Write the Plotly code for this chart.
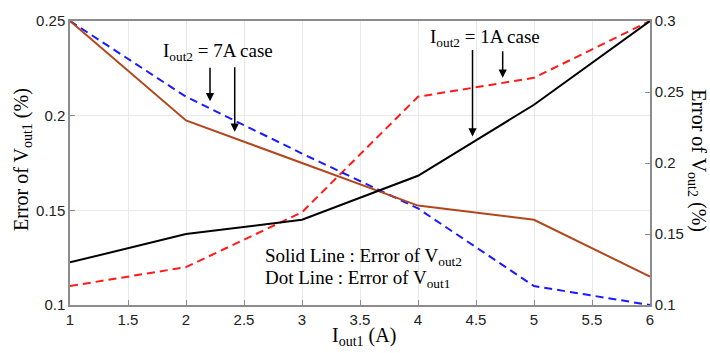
import plotly.graph_objects as go

# Data
x_vals = [1, 2, 3, 4, 5, 6]
# Solid lines: Error of Vout2 (right axis)
vout2_1A = [0.130, 0.150, 0.160, 0.191, 0.241, 0.300]   # black
vout2_7A = [0.300, 0.230, 0.200, 0.170, 0.160, 0.120]   # brown
# Dashed lines: Error of Vout1 (left axis)
vout1_1A = [0.110, 0.120, 0.149, 0.210, 0.220, 0.250]   # red
vout1_7A = [0.250, 0.210, 0.180, 0.151, 0.110, 0.100]   # blue

x_ticks = [1, 1.5, 2, 2.5, 3, 3.5, 4, 4.5, 5, 5.5, 6]
x_ticktext = ["1", "1.5", "2", "2.5", "3", "3.5", "4", "4.5", "5", "5.5", "6"]
yl_ticks = [0.1, 0.15, 0.2, 0.25]
yl_ticktext = ["0.1", "0.15", "0.2", "0.25"]
yr_ticks = [0.1, 0.15, 0.2, 0.25, 0.3]
yr_ticktext = ["0.1", "0.15", "0.2", "0.25", "0.3"]

SERIF = "Liberation Serif, Times New Roman, serif"
SANS = "Liberation Sans, Arial, sans-serif"
AXC = "#8c8c8c"

fig = go.Figure()
fig.add_trace(go.Scatter(x=x_vals, y=vout1_1A, mode="lines", yaxis="y",
                         line=dict(color="#ff1a1a", width=2, dash="8px,5px")))
fig.add_trace(go.Scatter(x=x_vals, y=vout1_7A, mode="lines", yaxis="y",
                         line=dict(color="#1a1aff", width=2, dash="8px,5px")))
fig.add_trace(go.Scatter(x=x_vals, y=vout2_7A, mode="lines", yaxis="y2",
                         line=dict(color="#b2461c", width=2)))
fig.add_trace(go.Scatter(x=x_vals, y=vout2_1A, mode="lines", yaxis="y2",
                         line=dict(color="#000000", width=2)))

annotations = []
# Text labels
annotations.append(dict(x=2.276, y=0.2334, xref="x", yref="y", showarrow=False,
                        text="I<sub>out2</sub> = 7A case", font=dict(family=SERIF, size=19, color="black")))
annotations.append(dict(x=4.578, y=0.2412, xref="x", yref="y", showarrow=False,
                        text="I<sub>out2</sub> = 1A case", font=dict(family=SERIF, size=19, color="black")))
annotations.append(dict(x=2.664, y=0.1253, xref="x", yref="y", showarrow=False, xanchor="left",
                        text="Solid Line : Error of V<sub>out2</sub>", font=dict(family=SERIF, size=19, color="black")))
annotations.append(dict(x=2.664, y=0.1139, xref="x", yref="y", showarrow=False, xanchor="left",
                        text="Dot Line : Error of V<sub>out1</sub>", font=dict(family=SERIF, size=19, color="black")))
# Arrows
for hx, hy, ay in [(2.207, 0.2076, -35), (2.42, 0.1915, -66), (4.47, 0.189, -88), (4.73, 0.220, -28)]:
    annotations.append(dict(x=hx, y=hy, xref="x", yref="y", ax=0, ay=ay, text="",
                            showarrow=True, arrowhead=2, arrowsize=1.1, arrowwidth=1.5, arrowcolor="black"))
# Axis titles
annotations.append(dict(x=-0.0828, y=0.514, xref="paper", yref="paper", showarrow=False, textangle=-90,
                        xanchor="center", yanchor="middle",
                        text="Error of V<sub>out1</sub> (%)", font=dict(family=SERIF, size=20, color="black")))
annotations.append(dict(x=1.0825, y=0.507, xref="paper", yref="paper", showarrow=False, textangle=90,
                        xanchor="center", yanchor="middle",
                        text="Error of V<sub>out2</sub> (%)", font=dict(family=SERIF, size=20, color="black")))
annotations.append(dict(x=0.507, y=-0.112, xref="paper", yref="paper", showarrow=False,
                        xanchor="center", yanchor="middle",
                        text="I<sub>out1</sub> (A)", font=dict(family=SERIF, size=20, color="black")))

fig.update_layout(
    width=710, height=353,
    margin=dict(l=70, r=60, t=15, b=48),
    paper_bgcolor="white", plot_bgcolor="white",
    showlegend=False,
    annotations=annotations,
    xaxis=dict(range=[1, 6], tickvals=x_ticks, ticktext=x_ticktext,
               showgrid=True, gridcolor="#e8e8e8", gridwidth=1,
               showline=True, linecolor=AXC, linewidth=1.5, mirror=True,
               ticks="inside", ticklen=5, tickcolor=AXC, zeroline=False,
               tickfont=dict(family=SANS, size=15, color="#222")),
    yaxis=dict(range=[0.1, 0.25], tickvals=yl_ticks, ticktext=yl_ticktext,
               showgrid=True, gridcolor="#e8e8e8", gridwidth=1,
               showline=True, linecolor=AXC, linewidth=1.5,
               ticks="inside", ticklen=5, tickcolor=AXC, zeroline=False,
               tickfont=dict(family=SANS, size=15, color="#222")),
    yaxis2=dict(range=[0.1, 0.3], tickvals=yr_ticks, ticktext=yr_ticktext,
                overlaying="y", side="right", showgrid=False,
                showline=True, linecolor=AXC, linewidth=1.5,
                ticks="inside", ticklen=5, tickcolor=AXC, zeroline=False,
                tickfont=dict(family=SANS, size=15, color="#222")),
)

fig.write_html("out.html")
